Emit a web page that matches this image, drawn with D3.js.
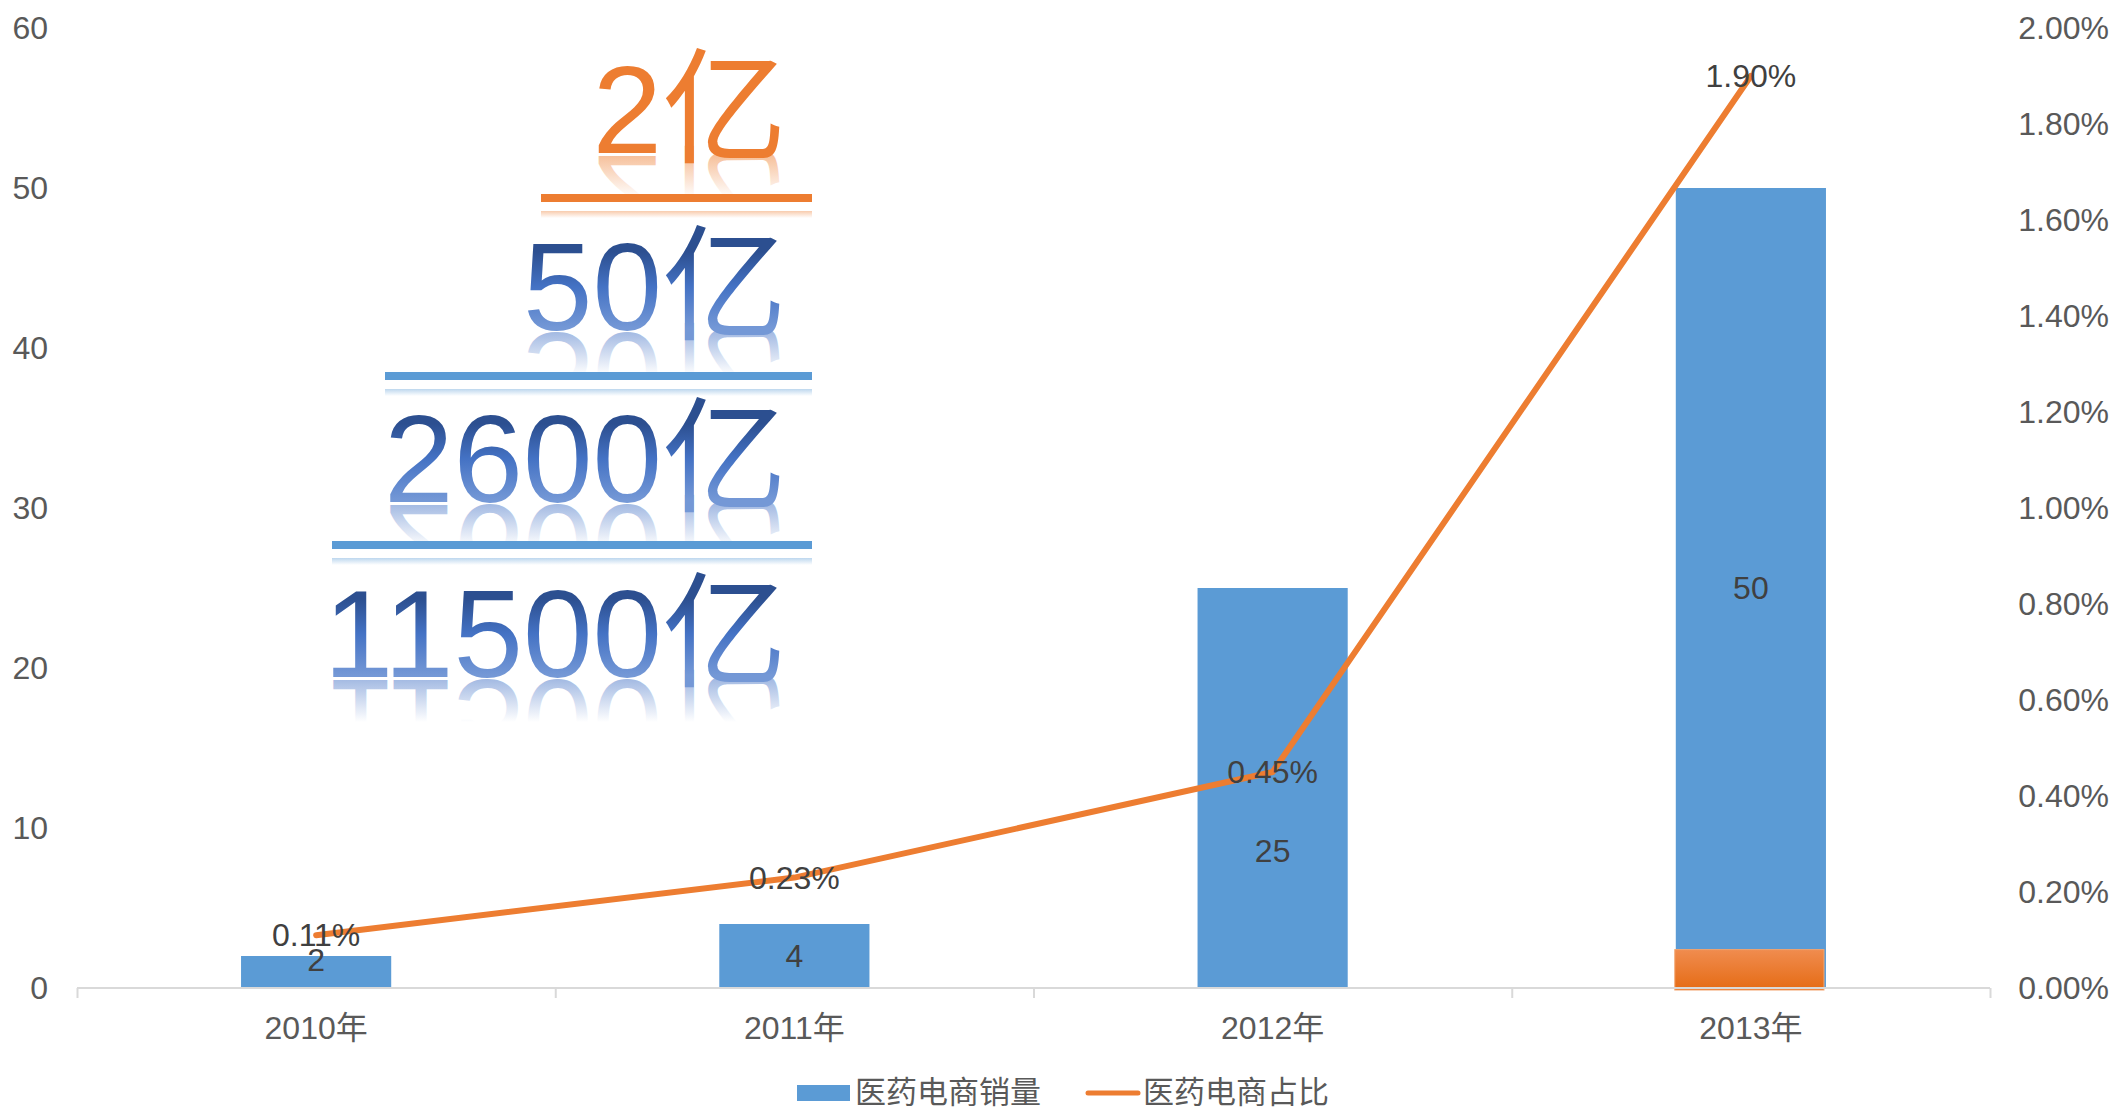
<!DOCTYPE html>
<html>
<head>
<meta charset="utf-8">
<script src="https://cdn.jsdelivr.net/npm/d3@7"></script>
<style>
  body { margin: 0; background: #fff; }
  text { font-family: "Liberation Sans", Arial, "Noto Sans CJK SC", sans-serif; }
</style>
</head>
<body>
<script>
// chart data
var years = ["2010年", "2011年", "2012年", "2013年"];
var sales = [2, 4, 25, 50];                 // 医药电商销量 (亿)
var share = [0.0011, 0.0023, 0.0045, 0.019]; // 医药电商占比
var highlight = [0, 0, 0, 2.4];              // orange piece in the 2013 bar
var leftTicks = [0, 10, 20, 30, 40, 50, 60];
var rightTicks = [0, 0.002, 0.004, 0.006, 0.008, 0.01, 0.012, 0.014, 0.016, 0.018, 0.02];
var legendNames = ["医药电商销量", "医药电商占比"];
// the stacked figures on the left
var figures = ["2亿", "50亿", "2600亿", "11500亿"];

var svgWidth = 2114, svgHeight = 1109;
var plotLeft = 77, plotRight = 1990, plotTop = 28, plotBottom = 988;
var fontSize = 32;

var svg = d3.select("body").append("svg")
    .attr("width", svgWidth)
    .attr("height", svgHeight);

var defs = svg.append("defs");

// scales
var x = d3.scaleBand().domain(years).range([plotLeft, plotRight]);
var xEdge = d3.scaleLinear().domain([0, years.length]).range([plotLeft, plotRight]);
var y = d3.scaleLinear().domain([0, 60]).range([plotBottom, plotTop]);
var y2 = d3.scaleLinear().domain([0, 0.02]).range([plotBottom, plotTop]);
var barWidth = x.bandwidth() * 0.314;

// left axis
var gLeft = svg.append("g")
    .attr("transform", "translate(" + plotLeft + ",0)")
    .call(d3.axisLeft(y).tickValues(leftTicks).tickSize(0).tickPadding(29));
gLeft.select(".domain").remove();
gLeft.selectAll("text").attr("font-size", fontSize).attr("fill", "#595959")
    .style("font-family", "Liberation Sans, Arial");

// right axis
var gRight = svg.append("g")
    .attr("transform", "translate(" + plotRight + ",0)")
    .call(d3.axisRight(y2).tickValues(rightTicks).tickFormat(d3.format(".2%")).tickSize(0));
gRight.select(".domain").remove();
gRight.selectAll("text").attr("font-size", fontSize).attr("fill", "#595959")
    .attr("text-anchor", "end").attr("x", 119)
    .style("font-family", "Liberation Sans, Arial");

// bars
svg.selectAll("rect.bar")
    .data(sales)
    .enter()
    .append("rect")
    .attr("class", "bar")
    .attr("x", (d, i) => x(years[i]) + x.bandwidth() / 2 - barWidth / 2)
    .attr("y", d => y(d))
    .attr("width", barWidth)
    .attr("height", d => y(0) - y(d))
    .attr("fill", "#5B9BD5");

// orange gradient piece
var og = defs.append("linearGradient").attr("id", "orangeBar")
    .attr("x1", 0).attr("y1", 0).attr("x2", 0).attr("y2", 1);
og.append("stop").attr("offset", "0%").attr("stop-color", "#F08C4F");
og.append("stop").attr("offset", "100%").attr("stop-color", "#E56B14");

svg.selectAll("rect.hl")
    .data(highlight.map((v, i) => ({v: v, i: i})).filter(d => d.v > 0))
    .enter()
    .append("rect")
    .attr("class", "hl")
    .attr("x", d => x(years[d.i]) + x.bandwidth() / 2 - barWidth / 2 - 1)
    .attr("y", d => y(d.v))
    .attr("width", barWidth - 1)
    .attr("height", d => y(0) - y(d.v) + 2)
    .attr("fill", "url(#orangeBar)")
    .attr("stroke", "#F3A46E")
    .attr("stroke-width", 1);

// x axis line + boundary ticks
var gEdge = svg.append("g")
    .attr("transform", "translate(0," + plotBottom + ")")
    .call(d3.axisBottom(xEdge).ticks(years.length).tickSize(10).tickFormat(""));
gEdge.select(".domain").attr("stroke", "#D9D9D9").attr("stroke-width", 2)
    .attr("d", "M" + plotLeft + ",0H" + plotRight);
gEdge.selectAll("line").attr("stroke", "#D9D9D9").attr("stroke-width", 2);

var gX = svg.append("g")
    .attr("transform", "translate(0," + plotBottom + ")")
    .call(d3.axisBottom(x).tickSize(0).tickPadding(28));
gX.select(".domain").remove();
gX.selectAll("text").attr("font-size", fontSize).attr("fill", "#595959")
    .style("font-family", "Liberation Sans, Arial, Noto Sans CJK SC");

// line
var line = d3.line()
    .x((d, i) => x(years[i]) + x.bandwidth() / 2)
    .y(d => y2(d));

svg.append("path")
    .datum(share)
    .attr("d", line)
    .attr("fill", "none")
    .attr("stroke", "#ED7D31")
    .attr("stroke-width", 6)
    .attr("stroke-linecap", "round")
    .attr("stroke-linejoin", "round");

// bar value labels (2012 label was dragged down in the original)
var nudge = {0: -12, 2: 63};
svg.selectAll("text.barlab")
    .data(sales)
    .enter()
    .append("text")
    .attr("class", "barlab")
    .attr("x", (d, i) => x(years[i]) + x.bandwidth() / 2)
    .attr("y", (d, i) => (y(d) + y(0)) / 2 + (nudge[i] || 0))
    .attr("dy", "0.35em")
    .attr("text-anchor", "middle")
    .attr("font-size", fontSize)
    .attr("fill", "#404040")
    .text(d => d);

// line labels
svg.selectAll("text.linelab")
    .data(share)
    .enter()
    .append("text")
    .attr("class", "linelab")
    .attr("x", (d, i) => x(years[i]) + x.bandwidth() / 2)
    .attr("y", d => y2(d))
    .attr("dy", "0.35em")
    .attr("text-anchor", "middle")
    .attr("font-size", fontSize)
    .attr("fill", "#404040")
    .text(d => d3.format(".2%")(d));

// legend
var lg = svg.append("g").attr("font-size", 31).attr("fill", "#595959");
lg.append("rect").attr("x", 797).attr("y", 1085).attr("width", 53).attr("height", 16).attr("fill", "#5B9BD5");
lg.append("text").attr("x", 855).attr("y", 1103).text(legendNames[0])
    .style("font-family", "Noto Sans CJK SC");
lg.append("line").attr("x1", 1088).attr("x2", 1138).attr("y1", 1093).attr("y2", 1093)
    .attr("stroke", "#ED7D31").attr("stroke-width", 5).attr("stroke-linecap", "round");
lg.append("text").attr("x", 1143).attr("y", 1103).text(legendNames[1])
    .style("font-family", "Noto Sans CJK SC");

// stacked figures with rules and reflections
var blueFill = defs.append("linearGradient").attr("id", "blueText")
    .attr("x1", 0).attr("y1", 0).attr("x2", 0).attr("y2", 1);
blueFill.append("stop").attr("offset", "0.25").attr("stop-color", "#2C4F90");
blueFill.append("stop").attr("offset", "0.5").attr("stop-color", "#4472C4");
blueFill.append("stop").attr("offset", "0.8").attr("stop-color", "#7498D6");

var figBase = [153, 330, 502, 677];
var ruleY = [198, 376, 545];
var ruleLeft = [541, 385, 332];
var figRight = 787;
var ruleRight = 812;

figures.forEach(function(f, i) {
    var isOrange = i === 0;
    var b = figBase[i];
    var gid = "refl" + i;
    var rg = defs.append("linearGradient").attr("id", gid)
        .attr("gradientUnits", "userSpaceOnUse")
        .attr("x1", 0).attr("x2", 0).attr("y1", b).attr("y2", b - 42);
    rg.append("stop").attr("offset", 0).attr("stop-color", isOrange ? "#F4B183" : "#8EAADC").attr("stop-opacity", 0.8);
    rg.append("stop").attr("offset", 1).attr("stop-color", isOrange ? "#F4B183" : "#8EAADC").attr("stop-opacity", 0);

    // reflection
    svg.append("text")
        .attr("x", figRight)
        .attr("y", b)
        .attr("transform", "translate(0," + (2 * b + 3) + ") scale(1,-1)")
        .attr("text-anchor", "end")
        .attr("font-size", 125)
        .attr("fill", "url(#" + gid + ")")
        .text(f);

    svg.append("text")
        .attr("x", figRight)
        .attr("y", b)
        .attr("text-anchor", "end")
        .attr("font-size", 125)
        .attr("fill", isOrange ? "#ED7D31" : "url(#blueText)")
        .text(f);
});

ruleY.forEach(function(ry, i) {
    var col = i === 0 ? "#ED7D31" : "#5B9BD5";
    var soft = i === 0 ? "#F8CBAD" : "#BDD7EE";
    svg.append("rect")
        .attr("x", ruleLeft[i]).attr("y", ry - 4)
        .attr("width", ruleRight - ruleLeft[i]).attr("height", 8)
        .attr("fill", col);
    var sg = defs.append("linearGradient").attr("id", "rule" + i)
        .attr("x1", 0).attr("y1", 0).attr("x2", 0).attr("y2", 1);
    sg.append("stop").attr("offset", 0).attr("stop-color", soft).attr("stop-opacity", 1);
    sg.append("stop").attr("offset", 1).attr("stop-color", soft).attr("stop-opacity", 0);
    svg.append("rect")
        .attr("x", ruleLeft[i]).attr("y", ry + 13)
        .attr("width", ruleRight - ruleLeft[i]).attr("height", 7)
        .attr("fill", "url(#rule" + i + ")");
});
</script>
</body>
</html>
